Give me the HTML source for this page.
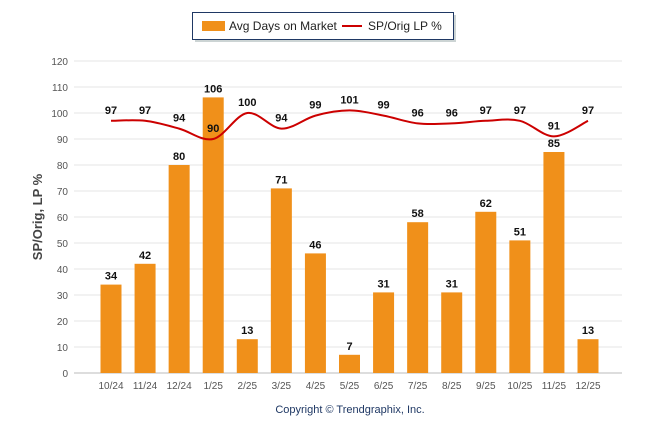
<!DOCTYPE html>
<html><head><meta charset="utf-8"><style>
body{margin:0;background:#fff;width:646px;height:434px;overflow:hidden;font-family:"Liberation Sans",Arial,sans-serif}
</style></head><body>
<svg id="chart" width="646" height="434" xmlns="http://www.w3.org/2000/svg" font-family="Liberation Sans, Arial, sans-serif">
<g>
<rect x="195" y="15" width="261" height="27" fill="#9aa" opacity="0.5"/>
<rect x="192.5" y="12.5" width="261" height="27" fill="#fff" stroke="#1f3864" stroke-width="1"/>
<rect x="202" y="21" width="23" height="10" fill="#f0901a"/>
<text x="229" y="30" font-size="12" fill="#222">Avg Days on Market</text>
<line x1="342" y1="26" x2="362" y2="26" stroke="#cc0000" stroke-width="2"/>
<text x="368" y="30" font-size="12" fill="#222">SP/Orig LP %</text>
</g>
<g id="grid"></g>
<g id="bars"></g>
<g id="line"></g>
<g id="labels"></g>
<text transform="translate(42,217) rotate(-90)" text-anchor="middle" font-size="13" font-weight="bold" fill="#444">SP/Orig, LP %</text>
<text x="350" y="413" text-anchor="middle" font-size="11" fill="#1f3864">Copyright © Trendgraphix, Inc.</text>
</svg>
<script>
const categories=["10/24","11/24","12/24","1/25","2/25","3/25","4/25","5/25","6/25","7/25","8/25","9/25","10/25","11/25","12/25"];
const daysOnMarket=[34,42,80,106,13,71,46,7,31,58,31,62,51,85,13];
const spOrigLP=[97,97,94,90,100,94,99,101,99,96,96,97,97,91,97];
const yTicks=[0,10,20,30,40,50,60,70,80,90,100,110,120];
const NS="http://www.w3.org/2000/svg";
const x0=74,x1=622,yTop=61,yBot=373,yMax=120;
const firstX=111,lastX=588;
const step=(lastX-firstX)/(categories.length-1);
const xS=i=>firstX+step*i;
const yS=v=>yBot-(v/yMax)*(yBot-yTop);
function mk(tag,attrs,parent){const e=document.createElementNS(NS,tag);for(const k in attrs)e.setAttribute(k,attrs[k]);parent.appendChild(e);return e;}
const grid=document.getElementById('grid');
yTicks.forEach(t=>{
 const l=mk('line',{x1:x0,x2:x1,y1:yS(t),y2:yS(t),stroke:t===0?'#bbb':'#e6e6e6','stroke-width':1},grid);
 
 
 const tx=mk('text',{x:68,y:yS(t)+4,'text-anchor':'end','font-size':'10',fill:'#555'},grid);
 tx.textContent=t;
 
 
});
categories.forEach((c,i)=>{
 const tx=mk('text',{x:xS(i),y:389,'text-anchor':'middle','font-size':'10',fill:'#555'},grid);
 tx.textContent=c;
 
 
});
const bars=document.getElementById('bars'),labels=document.getElementById('labels');
daysOnMarket.forEach((v,i)=>{
 const r=mk('rect',{x:xS(i)-10.5,y:yS(v),width:21,height:yBot-yS(v),fill:'#f0901a'},bars);
 
 
 const t=mk('text',{x:xS(i),y:yS(v)-5,'text-anchor':'middle','font-size':'11','font-weight':'bold',fill:'#111'},labels);
 t.textContent=v;
 
 
});
const pts=spOrigLP.map((v,i)=>[xS(i),yS(v)]);
let d='M'+pts[0][0]+','+pts[0][1];
for(let i=0;i<pts.length-1;i++){
 const p0=pts[Math.max(0,i-1)],p1=pts[i],p2=pts[i+1],p3=pts[Math.min(pts.length-1,i+2)];
 const c1=[p1[0]+(p2[0]-p0[0])/6,p1[1]+(p2[1]-p0[1])/6];
 const c2=[p2[0]-(p3[0]-p1[0])/6,p2[1]-(p3[1]-p1[1])/6];
 d+=' C'+c1[0]+','+c1[1]+' '+c2[0]+','+c2[1]+' '+p2[0]+','+p2[1];
}
const path=mk('path',{d:d,fill:'none',stroke:'#cc0000','stroke-width':2},document.getElementById('line'));


spOrigLP.forEach((v,i)=>{
 const t=mk('text',{x:xS(i),y:yS(v)-7,'text-anchor':'middle','font-size':'11','font-weight':'bold',fill:'#111'},labels);
 t.textContent=v;
 
 
});
</script>
</body></html>
